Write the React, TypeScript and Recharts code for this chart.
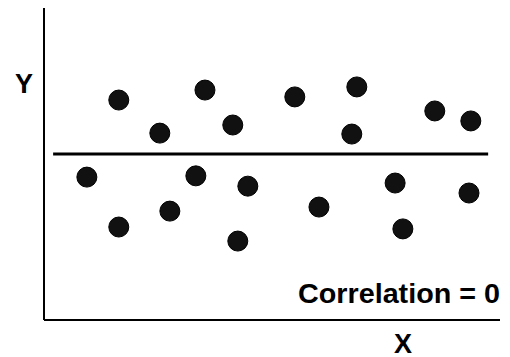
import { ReferenceLine, Scatter, ScatterChart, XAxis, YAxis } from "recharts";

// values, both axes on a 0-100 scale
const xValues = [9.4, 16.4, 16.4, 25.4, 27.6, 33.3, 35.3, 41.4, 42.5, 44.7, 55.0, 60.3, 67.5, 68.6, 77.0, 78.7, 85.7, 93.6, 93.2];
const yValues = [45.8, 70.5, 29.8, 59.9, 34.9, 46.2, 73.7, 62.5, 25.3, 42.9, 71.5, 36.2, 59.6, 74.7, 43.9, 29.2, 67.0, 63.8, 40.7];
const fitLevel = 53.2;
const fitRange = [2.0, 97.4];

const points = xValues.map((x, i) => ({ x, y: yValues[i] }));

const font = "'Liberation Sans', Arial, sans-serif";

const Dot = (props: any) => {
  const { cx, cy } = props;
  return <circle cx={cx} cy={cy} r={10} fill="#111" stroke="#000" strokeWidth={1} />;
};

export default function App() {
  return (
    <div style={{ position: "absolute", left: 0, top: 0, width: 510, height: 357, background: "#fff" }}>
      <ScatterChart width={510} height={357} margin={{ top: 8, right: 10, bottom: 36, left: 43 }}>
        <XAxis
          type="number"
          dataKey="x"
          domain={[0, 100]}
          height={1}
          tick={false}
          tickLine={false}
          axisLine={{ stroke: "#000", strokeWidth: 2 }}
        />
        <YAxis
          type="number"
          dataKey="y"
          domain={[0, 100]}
          width={1}
          tick={false}
          tickLine={false}
          axisLine={{ stroke: "#000", strokeWidth: 2 }}
        />
        <ReferenceLine
          segment={[
            { x: fitRange[0], y: fitLevel },
            { x: fitRange[1], y: fitLevel },
          ]}
          stroke="#000"
          strokeWidth={3}
        />
        <Scatter data={points} shape={Dot} isAnimationActive={false} />
      </ScatterChart>
      <svg width={510} height={357} style={{ position: "absolute", left: 0, top: 0, pointerEvents: "none" }}>
        <g fontFamily={font} fontWeight="bold" fontSize={27} fill="#000">
          <text x={24} y={93} textAnchor="middle">Y</text>
          <text x={403} y={353} textAnchor="middle">X</text>
          <text x={298} y={303} textLength={202} lengthAdjust="spacingAndGlyphs">
            Correlation = 0
          </text>
        </g>
      </svg>
    </div>
  );
}
